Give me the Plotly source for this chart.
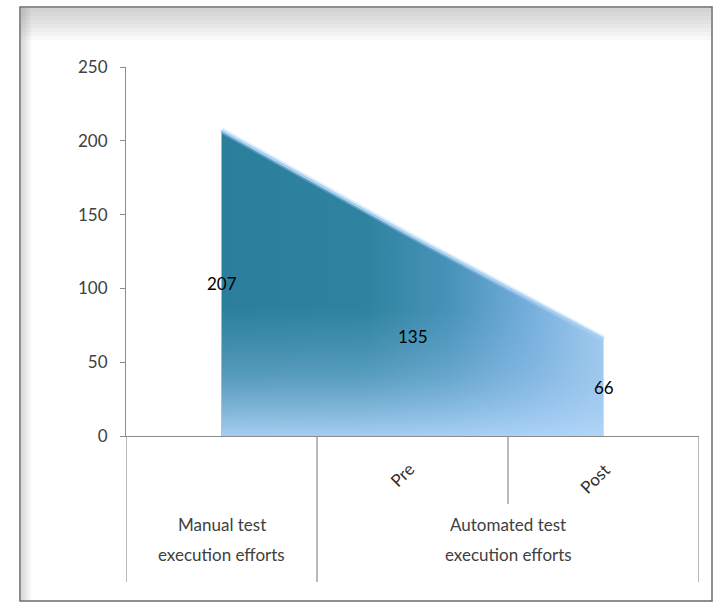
import plotly.graph_objects as go

# ---- data ----
inner_labels = ["", "Pre", "Post"]
group_labels = ["Manual test execution efforts", "Automated test execution efforts"]
group_spans = [(0, 0), (1, 2)]
values = [207, 135, 66]
y_ticks = [0, 50, 100, 150, 200, 250]

W, H = 717, 605
X0, X1, Y0, Y1 = 126, 699, 436, 67


def px(x):
    return (x - X0) / (X1 - X0)


def py(y):
    return (Y0 - y) / (Y0 - Y1)


FONT = "Lato, 'Liberation Sans', sans-serif"
xs = list(range(len(values)))

fig = go.Figure()
# base fill: horizontal gradient
fig.add_trace(go.Scatter(
    x=xs, y=values, mode="lines", fill="tozeroy",
    line=dict(color="rgba(0,0,0,0)", width=0),
    fillgradient=dict(type="horizontal",
                      colorscale=[[0, "#2c7f9c"], [0.38, "#2f83a0"], [0.6, "#4893b9"],
                                  [0.8, "#74addb"], [1, "#a6cdf0"]]),
    hoverinfo="skip", showlegend=False))
# overlay fill: vertical light gradient toward the bottom
fig.add_trace(go.Scatter(
    x=xs, y=values, mode="lines", fill="tozeroy",
    line=dict(color="rgba(0,0,0,0)", width=0),
    fillgradient=dict(type="vertical", start=0, stop=max(values),
                      colorscale=[[0, "rgba(178,214,250,0.9)"], [0.2, "rgba(150,195,235,0.4)"],
                                  [0.42, "rgba(120,180,220,0)"], [1, "rgba(120,180,220,0)"]]),
    hoverinfo="skip", showlegend=False))
# glow line on top edge
fig.add_trace(go.Scatter(
    x=xs, y=values, mode="lines",
    line=dict(color="rgba(170,210,245,0.35)", width=6),
    hoverinfo="skip", showlegend=False))
fig.add_trace(go.Scatter(
    x=xs, y=values, mode="lines",
    line=dict(color="#a9d0f3", width=2.5),
    hoverinfo="skip", showlegend=False))

annotations = []
# data labels (centered at half height)
for i, v in enumerate(values):
    annotations.append(dict(x=i, y=v / 2, xref="x", yref="y", text=str(v), showarrow=False,
                            font=dict(family=FONT, size=17, color="#000000")))
# inner category labels (rotated)
inner_y = [0, 494, 500]
inner_shift = [0, -10, -9]
for i, lab in enumerate(inner_labels):
    if lab:
        annotations.append(dict(x=i, y=py(inner_y[i]), xref="x", yref="paper", text=lab,
                                showarrow=False, textangle=-45, xshift=inner_shift[i],
                                font=dict(family=FONT, size=17, color="#303030")))
# group labels (two lines each)
for lab, (a, b) in zip(group_labels, group_spans):
    words = lab.split(" ")
    line1 = " ".join(words[:2])
    line2 = " ".join(words[2:])
    cx = (a + b) / 2
    for txt, yy in ((line1, 537), (line2, 567)):
        annotations.append(dict(x=cx, y=py(yy), xref="x", yref="paper", text=txt,
                                showarrow=False,
                                font=dict(family=FONT, size=17, color="#404040")))

shapes = []
# outer chart frame shadows
for k in range(1, 9):
    shapes.append(dict(type="rect", xref="paper", yref="paper", layer="below",
                       x0=px(21), x1=px(711), y0=py(8), y1=py(8 + k * 4),
                       line=dict(width=0), fillcolor="rgba(140,140,140,0.05)"))
for k in range(1, 6):
    shapes.append(dict(type="rect", xref="paper", yref="paper", layer="below",
                       x0=px(21), x1=px(21 + k * 2), y0=py(600), y1=py(8),
                       line=dict(width=0), fillcolor="rgba(140,140,140,0.07)"))
shapes.append(dict(type="rect", xref="paper", yref="paper",
                   x0=px(20), x1=px(712), y0=py(601), y1=py(7),
                   line=dict(color="#6a6a6a", width=1.5)))
# multilevel category dividers
n = len(values)
bounds = [i - 0.5 for i in range(n + 1)]
group_edges = {a - 0.5 for a, b in group_spans} | {b + 0.5 for a, b in group_spans}
for bx in bounds:
    bottom = 582 if bx in group_edges else 504
    shapes.append(dict(type="line", xref="x", yref="paper", x0=bx, x1=bx,
                       y0=0, y1=py(bottom), line=dict(color="#8c8c8c", width=1.2)))

fig.update_layout(
    width=W, height=H,
    margin=dict(l=X0, r=W - X1, t=Y1, b=H - Y0),
    paper_bgcolor="white", plot_bgcolor="white",
    showlegend=False,
    xaxis=dict(range=[-0.5, n - 0.5], showticklabels=False, showgrid=False, zeroline=False,
               showline=True, linecolor="#8c8c8c", linewidth=1.2, ticks="", fixedrange=True),
    yaxis=dict(range=[0, 250], tickvals=y_ticks, ticks="outside", ticklen=5, tickcolor="#8c8c8c",
               showline=True, linecolor="#8c8c8c", linewidth=1.2, showgrid=False, zeroline=False,
               ticklabelstandoff=9,
               tickfont=dict(family=FONT, size=17, color="#404040"), fixedrange=True),
    annotations=annotations,
    shapes=shapes,
)

fig.write_html("out.html")
